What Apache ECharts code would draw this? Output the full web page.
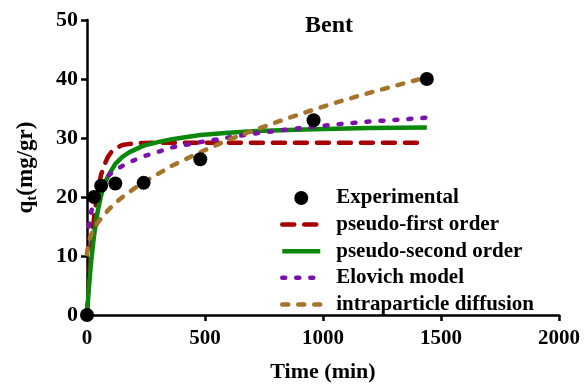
<!DOCTYPE html>
<html>
<head>
<meta charset="utf-8">
<script src="https://cdn.jsdelivr.net/npm/echarts@6/dist/echarts.min.js"></script>
<style>html,body{margin:0;padding:0;background:#fff}#c{width:588px;height:388px}</style>
</head>
<body>
<div id="c"></div>
<script>
// Experimental data
var expTime = [0, 30, 60, 120, 240, 480, 960, 1440];
var expQ = [0, 20.0, 21.9, 22.3, 22.4, 26.4, 33.0, 40.0];
// pseudo-first order
var pfoTime = [0, 5, 10, 15, 20, 30, 40, 50, 60, 75, 90, 105, 120, 150, 180, 240, 360, 480, 720, 960, 1200, 1440];
var pfoQ = [0, 3.7, 7.1, 10.0, 12.5, 16.6, 19.5, 22.0, 23.8, 25.6, 26.9, 27.7, 28.2, 28.8, 29.0, 29.17, 29.2, 29.2, 29.2, 29.2, 29.2, 29.2];
// pseudo-second order
var psoTime = [0, 5, 10, 15, 20, 30, 45, 60, 75, 90, 120, 150, 180, 240, 300, 360, 480, 600, 720, 960, 1200, 1440];
var psoQ = [0, 3.0, 5.5, 8.0, 10.0, 13.5, 17.5, 20.3, 22.3, 23.6, 25.6, 26.8, 27.6, 28.7, 29.3, 29.8, 30.5, 30.9, 31.2, 31.5, 31.7, 31.8];
// Elovich model
var eloTime = [8, 15, 30, 45, 60, 90, 120, 180, 240, 360, 480, 600, 720, 840, 960, 1080, 1200, 1320, 1440];
var eloQ = [15.0, 17.0, 19.3, 21.0, 22.2, 23.6, 24.6, 25.9, 26.9, 28.4, 29.3, 30.1, 30.8, 31.4, 31.9, 32.4, 32.8, 33.1, 33.45];
// intraparticle diffusion
var ipdTime = [0, 5, 10, 20, 30, 45, 60, 90, 120, 180, 240, 360, 480, 600, 720, 840, 960, 1080, 1200, 1320, 1440];
var ipdQ = [10.3, 12.0, 12.8, 13.8, 14.6, 15.6, 16.4, 17.8, 19.0, 20.9, 22.5, 25.3, 27.6, 29.7, 31.5, 33.2, 34.8, 36.3, 37.7, 39.0, 40.3];

var xTicks = [0, 500, 1000, 1500, 2000];
var yTicks = [0, 10, 20, 30, 40, 50];
var legendNames = ['Experimental', 'pseudo-first order', 'pseudo-second order', 'Elovich model', 'intraparticle diffusion'];

function pairs(t, q) { return t.map(function (v, i) { return [v, q[i]]; }); }

var serif = 'Liberation Serif';
var chart = echarts.init(document.getElementById('c'), null, {renderer: 'canvas'});
var lineBase = function (name, t, q, color, type, cap) {
  return {
    name: name, type: 'line', data: pairs(t, q), showSymbol: false, symbol: 'none',
    smooth: false, z: 2,
    lineStyle: {color: color, width: 4.5, type: type, cap: cap || 'round'},
    itemStyle: {color: color}
  };
};
chart.setOption({
  animation: false,
  title: {
    text: 'Bent', left: 324, top: 9, textAlign: 'center',
    textStyle: {fontFamily: serif, fontWeight: 'bold', fontSize: 24, color: '#000'}
  },
  grid: {left: 87, right: 29, top: 20, bottom: 71},
  legend: {
    orient: 'vertical', left: 275, top: 182.5, itemWidth: 38, itemHeight: 14, itemGap: 5.6,
    lineStyle: {width: 4.5},
    textStyle: {fontFamily: serif, fontWeight: 'bold', fontSize: 21, lineHeight: 21, color: '#000', padding: [0, 0, 0, 11]},
    data: legendNames.map(function (n, i) {
      return i === 0 ? {name: n} : {name: n, itemStyle: {opacity: 0}};
    })
  },
  xAxis: {
    type: 'value', min: 0, max: 2000, interval: 500,
    name: 'Time (min)', nameLocation: 'middle', nameGap: 46,
    nameTextStyle: {fontFamily: serif, fontWeight: 'bold', fontSize: 22, color: '#000'},
    axisLine: {onZero: false, lineStyle: {color: '#000', width: 2.5}},
    axisTick: {show: true, inside: false, length: 6, lineStyle: {color: '#000', width: 2.5}},
    axisLabel: {fontFamily: serif, fontWeight: 'bold', fontSize: 21, color: '#000', margin: 13,
      formatter: function (v) { return xTicks.indexOf(v) >= 0 ? String(v) : ''; }},
    splitLine: {show: false}
  },
  yAxis: {
    type: 'value', min: 0, max: 50, interval: 10,
    name: '{a|q}{b|t}{a|(mg/gr)}', nameLocation: 'middle', nameGap: 47,
    nameTextStyle: {color: '#000', rich: {
      a: {fontFamily: serif, fontWeight: 'bold', fontSize: 23, color: '#000'},
      b: {fontFamily: serif, fontWeight: 'bold', fontSize: 15, color: '#000', padding: [12, 0, 0, 0]}
    }},
    axisLine: {onZero: false, lineStyle: {color: '#000', width: 2.5}},
    axisTick: {show: true, inside: false, length: 6, lineStyle: {color: '#000', width: 2.5}},
    axisLabel: {fontFamily: serif, fontWeight: 'bold', fontSize: 22, color: '#000', margin: 9,
      formatter: function (v) { return yTicks.indexOf(v) >= 0 ? String(v) : ''; }},
    splitLine: {show: false}
  },
  series: [
    {
      name: 'Experimental', type: 'scatter', data: pairs(expTime, expQ),
      symbol: 'circle', symbolSize: 14, z: 5, clip: false,
      itemStyle: {color: '#000', opacity: 1}
    },
    lineBase('pseudo-first order', pfoTime, pfoQ, '#A80000', [12, 10]),
    lineBase('pseudo-second order', psoTime, psoQ, '#0B870B', 'solid', 'butt'),
    lineBase('Elovich model', eloTime, eloQ, '#7E10AA', [3, 11]),
    lineBase('intraparticle diffusion', ipdTime, ipdQ, '#A6732A', [6, 10])
  ]
});
</script>
</body>
</html>
